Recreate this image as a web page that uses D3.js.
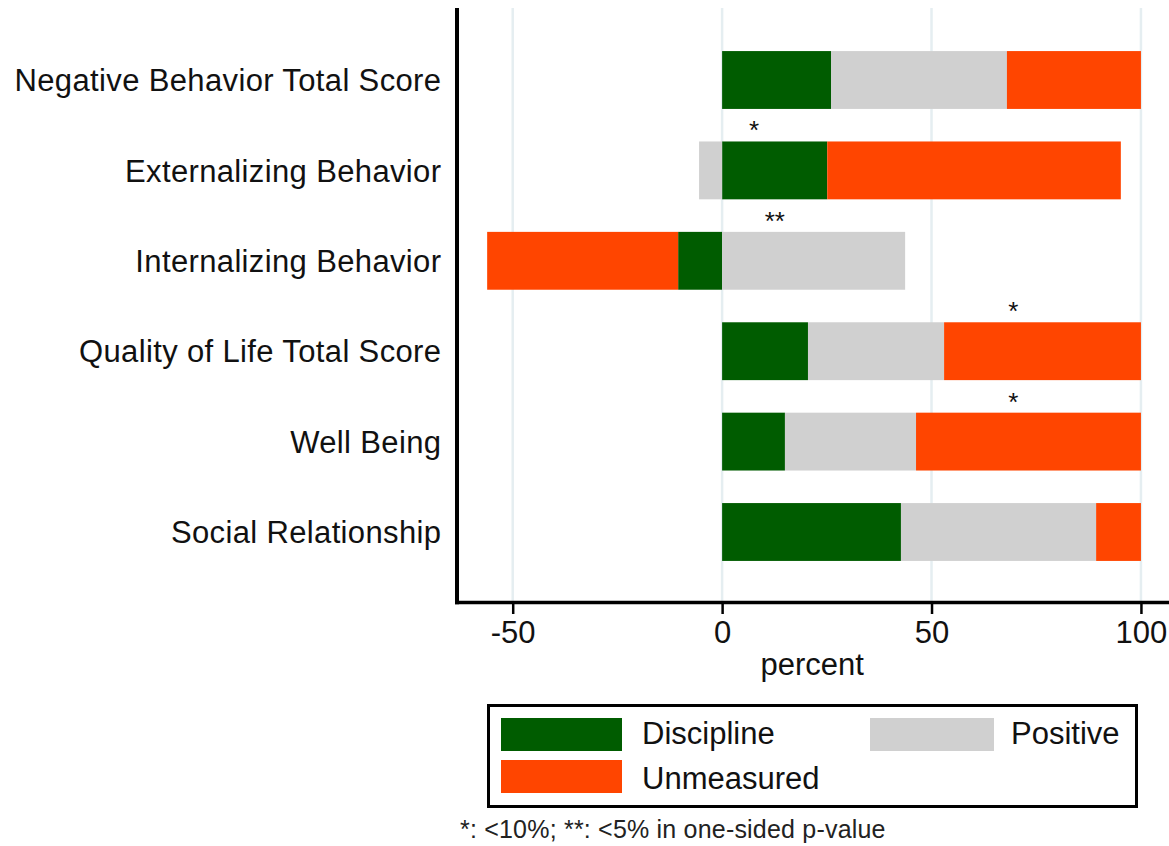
<!DOCTYPE html>
<html>
<head>
<meta charset="utf-8">
<script src="https://cdn.jsdelivr.net/npm/d3@7"></script>
<style>
  html, body { margin: 0; padding: 0; background: #fff; }
  svg { display: block; font-family: "Liberation Sans", Arial, Helvetica, sans-serif; }
</style>
</head>
<body>
<svg id="chart" width="1169" height="846"></svg>
<script>
// Outcome rows, top to bottom
const outcomes = [
  "Negative Behavior Total Score",
  "Externalizing Behavior",
  "Internalizing Behavior",
  "Quality of Life Total Score",
  "Well Being",
  "Social Relationship"
];

// Share of each component, in percent (negative values extend left of zero)
const discipline = [26.0, 25.1, -10.5, 20.5, 15.0, 42.7];
const positive   = [42.0, -5.5,  43.7, 32.5, 31.3, 46.6];
const unmeasured = [32.0, 70.1, -45.6, 47.0, 53.7, 10.7];

const seriesKeys   = ["Discipline", "Positive", "Unmeasured"];
const seriesColors = ["#005c00", "#d0d0d0", "#ff4500"];

const xTicks = [-50, 0, 50, 100];

// Significance markers placed above a bar
const starRows   = ["Externalizing Behavior", "Internalizing Behavior", "Quality of Life Total Score", "Well Being"];
const starLabels = ["*", "**", "*", "*"];
const starX      = [7.6, 12.6, 69.5, 69.5];

const footnote = "*: <10%; **: <5% in one-sided p-value";

const rows = outcomes.map((name, i) => ({
  name,
  Discipline: discipline[i],
  Positive: positive[i],
  Unmeasured: unmeasured[i]
}));

const svg = d3.select("#chart");
const W = 1169;
const plot = { left: 457, right: 1169, top: 8, bottom: 602.5 };

const x = d3.scaleLinear().domain([-63.3, 106.7]).range([plot.left, plot.right]);
const y = d3.scaleBand().domain(outcomes).range([34.8, 577.2])
  .paddingInner(0.36).paddingOuter(0.18);
const color = d3.scaleOrdinal().domain(seriesKeys).range(seriesColors);

// vertical grid lines
svg.append("g").selectAll("line").data(xTicks).join("line")
  .attr("x1", d => x(d)).attr("x2", d => x(d))
  .attr("y1", plot.top).attr("y2", plot.bottom - 1.5)
  .attr("stroke", "#e5eef1").attr("stroke-width", 2.5);

// stacked bars, negatives diverging to the left of zero
const stacked = d3.stack().keys(seriesKeys).offset(d3.stackOffsetDiverging)(rows);
svg.append("g").selectAll("g").data(stacked).join("g")
  .attr("fill", s => color(s.key))
  .selectAll("rect").data(s => s).join("rect")
  .attr("x", d => x(Math.min(d[0], d[1])))
  .attr("width", d => Math.abs(x(d[1]) - x(d[0])))
  .attr("y", d => y(d.data.name))
  .attr("height", y.bandwidth());

// significance stars
svg.append("g").selectAll("text").data(starRows.map((r, i) => ({ r, s: starLabels[i], v: starX[i] })))
  .join("text")
  .attr("x", d => x(d.v))
  .attr("y", d => y(d.r) - 2)
  .attr("text-anchor", "middle")
  .attr("font-size", 26)
  .attr("fill", "#111")
  .text(d => d.s);

// category labels
svg.append("g").selectAll("text").data(outcomes).join("text")
  .attr("x", 441.4)
  .attr("y", d => y(d) + y.bandwidth() / 2)
  .attr("dy", "0.36em")
  .attr("text-anchor", "end")
  .attr("font-size", 31)
  .attr("letter-spacing", "0.36px")
  .attr("fill", "#111")
  .text(d => d);

// x axis
const xAxis = svg.append("g").attr("transform", `translate(0,${plot.bottom})`)
  .call(d3.axisBottom(x).tickValues(xTicks).tickFormat(d => String(d))
    .tickSize(11.5).tickSizeOuter(0).tickPadding(7));
xAxis.select(".domain").remove();
xAxis.selectAll(".tick line").attr("stroke", "#000").attr("stroke-width", 2.5);
xAxis.selectAll(".tick text").attr("font-size", 31).attr("fill", "#111")
  .attr("font-family", "Liberation Sans, Arial, sans-serif");

// axis lines
svg.append("line")
  .attr("x1", plot.left - 2).attr("x2", W)
  .attr("y1", plot.bottom).attr("y2", plot.bottom)
  .attr("stroke", "#000").attr("stroke-width", 3.5);
svg.append("line")
  .attr("x1", plot.left).attr("x2", plot.left)
  .attr("y1", plot.top).attr("y2", plot.bottom + 1.75)
  .attr("stroke", "#000").attr("stroke-width", 4);

// axis title
svg.append("text")
  .attr("x", x(21.5)).attr("y", 675)
  .attr("text-anchor", "middle")
  .attr("font-size", 31).attr("fill", "#111")
  .text("percent");

// legend
const legend = svg.append("g");
legend.append("rect")
  .attr("x", 488.5).attr("y", 705.5).attr("width", 648).attr("height", 101)
  .attr("fill", "none").attr("stroke", "#000").attr("stroke-width", 3);
const legendPos = {
  Discipline: { sx: 501, sy: 718, tx: 642, ty: 744 },
  Positive:   { sx: 870, sy: 718, tx: 1011, ty: 744 },
  Unmeasured: { sx: 501, sy: 760, tx: 642, ty: 789 }
};
const legendItems = legend.selectAll("g").data(seriesKeys).join("g");
legendItems.append("rect")
  .attr("x", d => legendPos[d].sx).attr("y", d => legendPos[d].sy)
  .attr("width", d => d === "Positive" ? 124 : 121).attr("height", 33)
  .attr("fill", d => color(d));
legendItems.append("text")
  .attr("x", d => legendPos[d].tx).attr("y", d => legendPos[d].ty)
  .attr("font-size", 31).attr("fill", "#111")
  .text(d => d);

// footnote
svg.append("text")
  .attr("x", 460).attr("y", 838)
  .attr("font-size", 25).attr("letter-spacing", "0.2px").attr("fill", "#222")
  .text(footnote);
</script>
</body>
</html>
